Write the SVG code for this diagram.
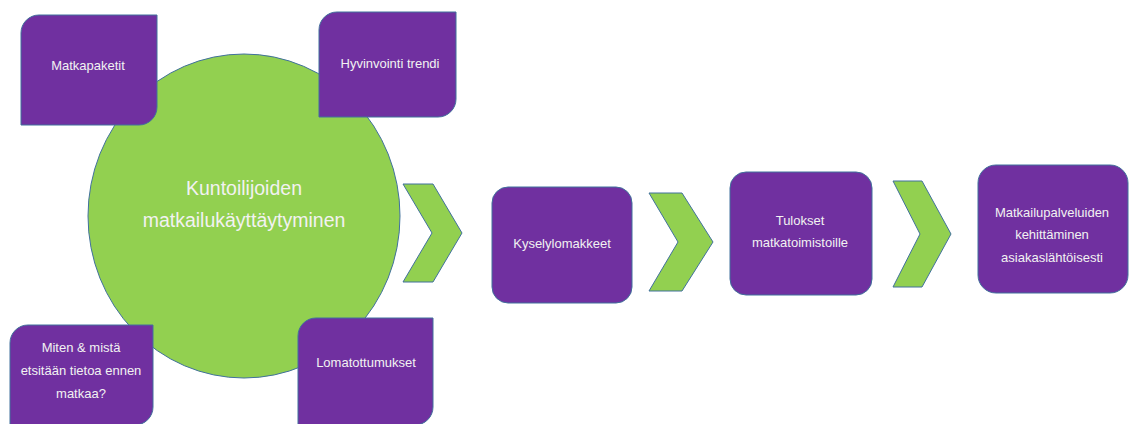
<svg xmlns="http://www.w3.org/2000/svg" width="1129" height="424" viewBox="0 0 1129 424">
  <style>
    .box { fill: #7030A0; stroke: #41719C; stroke-width: 1; }
    .hub { fill: #92D050; stroke: #41719C; stroke-width: 1; }
    .chev { fill: #92D050; stroke: #41719C; stroke-width: 1; }
    .lbl { font-family: "Liberation Sans", Arial, sans-serif; font-size: 13px; fill: #F2F2F2; text-anchor: middle; }
    .big { font-size: 19.5px; }
  </style>
  <rect width="1129" height="424" fill="#FFFFFF"/>

  <!-- central topic -->
  <g id="hub">
    <ellipse class="hub" cx="244" cy="216" rx="156" ry="162"/>
    <text class="lbl big" x="244" y="195">Kuntoilijoiden</text>
    <text class="lbl big" x="244" y="227">matkailukäyttäytyminen</text>
  </g>

  <!-- surrounding themes -->
  <g id="matkapaketit">
    <path class="box" d="M39,15 H157 V107 A18,18 0 0 1 139,125 H21 V33 A18,18 0 0 1 39,15 Z"/>
    <text class="lbl" x="88" y="70">Matkapaketit</text>
  </g>
  <g id="hyvinvointi">
    <path class="box" d="M337,12 H456 V99 A18,18 0 0 1 438,117 H319 V30 A18,18 0 0 1 337,12 Z"/>
    <text class="lbl" x="390" y="68">Hyvinvointi trendi</text>
  </g>
  <g id="tiedonhaku">
    <path class="box" d="M28,325 H153 V407 A18,18 0 0 1 135,425 H10 V343 A18,18 0 0 1 28,325 Z"/>
    <text class="lbl" x="81" y="352">Miten &amp; mistä</text>
    <text class="lbl" x="81" y="375">etsitään tietoa ennen</text>
    <text class="lbl" x="81" y="398">matkaa?</text>
  </g>
  <g id="lomatottumukset">
    <path class="box" d="M316,318 H433 V407 A18,18 0 0 1 415,425 H298 V336 A18,18 0 0 1 316,318 Z"/>
    <text class="lbl" x="366" y="367">Lomatottumukset</text>
  </g>

  <!-- process steps -->
  <g id="kysely">
    <rect class="box" x="492" y="187" width="140" height="116" rx="16"/>
    <text class="lbl" x="562" y="248">Kyselylomakkeet</text>
  </g>
  <g id="tulokset">
    <rect class="box" x="730" y="172" width="142" height="123" rx="16"/>
    <text class="lbl" x="800" y="225">Tulokset</text>
    <text class="lbl" x="800" y="247">matkatoimistoille</text>
  </g>
  <g id="kehittaminen">
    <rect class="box" x="978" y="165" width="150" height="128" rx="18"/>
    <text class="lbl" x="1052" y="217">Matkailupalveluiden</text>
    <text class="lbl" x="1052" y="239">kehittäminen</text>
    <text class="lbl" x="1052" y="262">asiakaslähtöisesti</text>
  </g>

  <!-- chevron connectors -->
  <g id="connectors">
    <polygon class="chev" points="403,184 433,184 462,233 433,282 403,282 432,233"/>
    <polygon class="chev" points="649,193 682,193 713,242 682,291 649,291 678,242"/>
    <polygon class="chev" points="893,181 922,181 951,234 922,287 893,287 920,234"/>
  </g>
</svg>
